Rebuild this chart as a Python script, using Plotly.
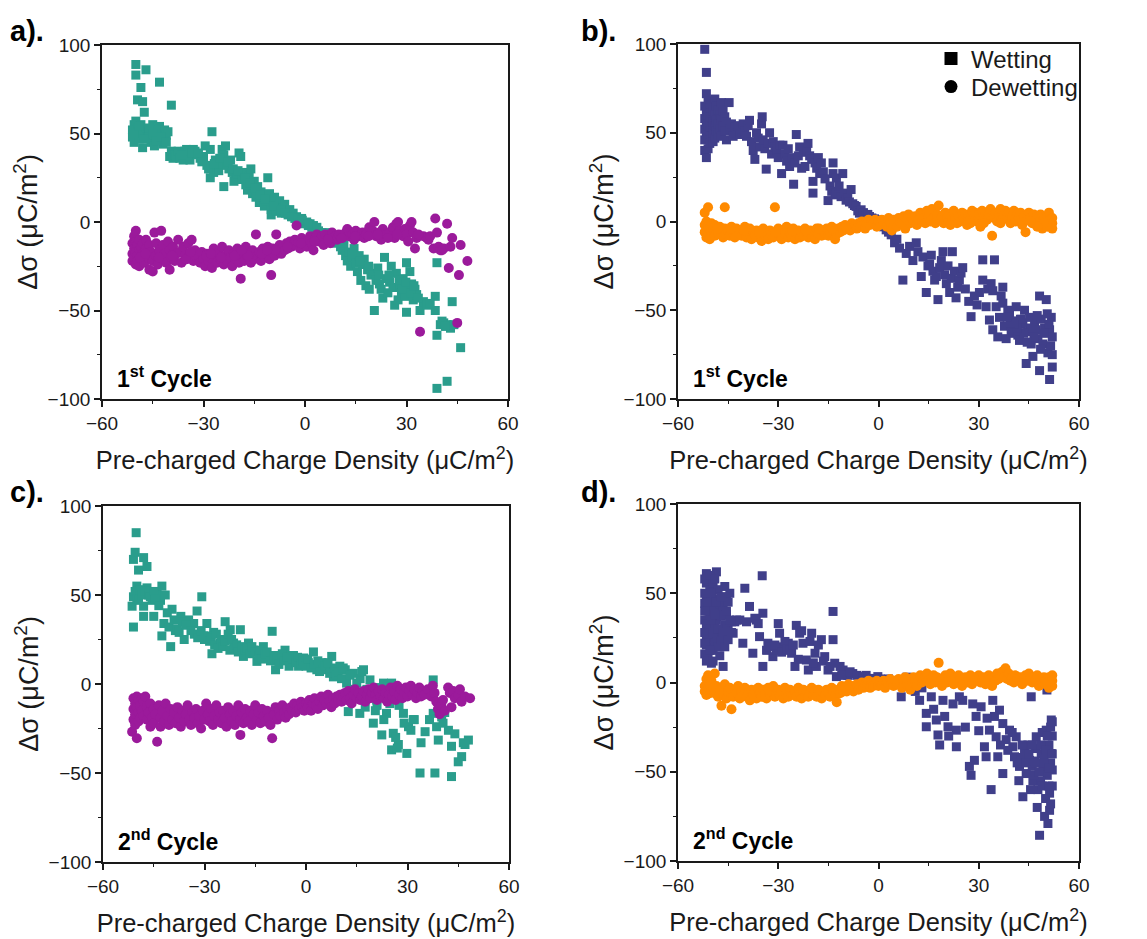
import plotly.graph_objects as go

# ---------------- data ----------------
# Panel a) 1st cycle, teal = wetting (squares), purple = dewetting (circles)
A_WET_X = [-51, -51, -50.5, -50.5, -50, -50, -50, -50, -49.5, -49.5,
           -49, -49, -48.5, -48.5, -48, -48, -48, -47.5, -47, -47,
           -46.5, -46, -45.5, -45, -44.5, -44.5, -44, -43.5, -43, -43,
           -42.5, -42, -42, -41.5, -41, -40.5, -40, -39.5, -39.5, -39,
           -38.5, -38, -37.5, -37, -36, -35.5, -35, -34.5, -34, -33,
           -32.5, -32, -31, -30.5, -30, -29.5, -29, -28.5, -28, -28,
           -27.5, -27, -26.5, -26, -25.5, -25, -24.5, -24, -24, -23.5,
           -23, -22.5, -22, -21.5, -21, -20.5, -20, -19.5, -19, -18.5,
           -18, -17.5, -17, -16.5, -16, -15.5, -15, -14.5, -14, -13.5,
           -13, -12.5, -12, -11.5, -11, -10.5, -10, -10, -9.5, -9,
           -8.5, -8, -7.5, -7, -6.5, -6, -5.5, -5, -4.5, -4,
           -3.5, -3, -2.5, -2, -1.5, -1, 0, 0.5, 1, 1.5,
           2, 2.5, 3, 4, 5, 5.5, 6, 7, 8, 9,
           10, 10.5, 11, 11.5, 12, 12.5, 13, 13.5, 14, 14.5,
           15, 15.5, 16, 16.5, 17, 17.5, 18, 18.5, 19, 19.5,
           20, 20.5, 21, 21.5, 22, 22.5, 23, 23.5, 24, 24.5,
           25, 25.5, 26, 26.5, 27, 27.5, 28, 28.5, 29, 29.5,
           30, 30, 30.5, 31, 31.5, 32, 32.5, 33, 34, 35,
           38.5, 38.5, 39, 39, 39, 40, 41, 42, 42, 43,
           43.5, 46, -50.5, -49, -47.5, -46, -45, -44, -42.5, -41,
           -36.5, -33.5, -31.5, -26.8, -25.2, -22.8, -21.2, -19.8, -17.8, -16.2,
           -14.8, -13.2, -11.8, -9.2, -7.2, -5.8, -3.8, -2.2, -0.8, 0.8,
           3.5, 6.5, 8.5, 11.2, 13.8, 16.2, 18.8, 21.8, 24.8, 27.8,
           28.8, 29.8, 31.2, 32.2, 33.5, 36, 37, 40.5, 41.5, 44]
A_WET_Y = [48, 52, 45, 55, 50, 57, 89, 83, 69, 53,
           47, 51, 76, 55, 68, 42, 50, 62, 86, 53,
           48, 51, 45, 55, 43, 49, 52, 47, 54, 79,
           50, 44, 46, 52, 49, 51, 37, 66, 40, 36,
           38, 37, 40, 36, 35, 40, 41, 39, 35, 41,
           40, 38, 36, 34, 37, 43, 32, 30, 25, 41,
           51, 28, 35, 30, 29, 33, 41, 38, 20, 43,
           32, 30, 35, 28, 23, 26, 27, 39, 37, 24,
           28, 21, 18, 26, 30, 16, 23, 14, 20, 11,
           17, 14, 9, 12, 25, 16, 7, 4, 11, 14,
           6, 9, 12, 5, 8, 10, 6, 4, 7, 3,
           5, 2, 3, 1, 0, 2, -1, 0, -2, -1,
           -3, -2, -4, -5, -6, -9, -7, -8, -9, -12,
           -11, -14, -16, -13, -19, -22, -17, -25, -20, -15,
           -23, -28, -19, -33, -24, -21, -36, -27, -38, -30,
           -29, -50, -33, -26, -35, -38, -43, -20, -32, -40,
           -34, -25, -37, -47, -29, -44, -36, -40, -32, -42,
           -23, -51, -38, -28, -35, -44, -38, -41, -50, -45,
           -50, -42, -23, -64, -94, -58, -57, -90, -58, -60,
           -45, -71, 50, 54, 47, 53, 50, 46, 48, 45,
           38, 39, 39, 33, 36, 34, 30, 29, 25, 22,
           19, 15, 13, 9, 7, 5, 3, 2, 1, -1,
           -3, -6, -10, -12, -18, -22, -25, -30, -30, -33,
           -38, -34, -40, -36, -43, -47, -46, -56, -59, -58]

A_DEW_X = [-51, -51, -51, -50.5, -50.5, -50.5, -50, -50, -50, -50,
           -49.5, -49.5, -49.5, -49, -49, -49, -48.5, -48.5, -48, -48,
           -47.5, -47, -47, -46.5, -46, -46, -45.5, -45, -45, -44.5,
           -44, -44, -43.5, -43, -42.5, -42, -42, -41.5, -41, -40.5,
           -40, -40, -39.5, -39, -38.5, -38, -37.5, -37, -36.5, -36,
           -35.5, -35, -34.5, -34, -33.5, -33, -32.5, -32, -31.5, -31,
           -30.5, -30, -29.5, -29, -28.5, -28, -27.5, -27, -26.5, -26,
           -25.5, -25, -24.5, -24, -23.5, -23, -22.5, -22, -21.5, -21,
           -20.5, -20, -19.5, -19, -19, -18.5, -18, -17.5, -17, -16.5,
           -16, -15.5, -15, -14.5, -14, -13.5, -13, -12.5, -12, -11.5,
           -11, -10.5, -10, -10, -9.5, -9, -8.5, -8, -7.5, -7,
           -6.5, -6, -5.5, -5, -4.5, -4, -3.5, -3, -2.5, -2,
           -1.5, -1, 0, 0.5, 1, 1.5, 2, 2.5, 3, 3.5,
           4, 5, 5.5, 6, 7, 7.5, 8, 9, 9.5, 10,
           11, 12, 12.5, 13, 14, 14.5, 15, 16, 17, 17.5,
           18, 19, 20, 20.5, 21, 22, 22.5, 23, 24, 25,
           26, 26.5, 27, 27.5, 28, 29, 29.5, 30, 30.5, 31,
           31.5, 32, 32.5, 33, 34, 35, 36, 38, 38.5, 39,
           39.5, 40, 40.5, 41, 42, 42.5, 43, 43.5, 45, 45.5,
           46, 48, -48.8, -47.2, -43.2, -39.2, -35.2, -29.2, -24.8, -20.8,
           -16.8, -12.8, -8.8, -5.2, -1.2, 2.8, 6.8, 10.8, 14.8, 18.8,
           21.5, 24.5, 27.2, 33.5, 36.5, 37, -33.8, -27.8, -18.8, -11.2]
A_DEW_Y = [-12, -18, -22, -8, -15, -20, -5, -11, -17, -24,
           -13, -19, -22, -10, -16, -25, -14, -21, -12, -18,
           -23, -15, -10, -20, -27, -13, -17, -28, -22, -6,
           -12, -19, -24, -16, -5, -21, -13, -18, -23, -11,
           -27, -16, -20, -14, -22, -18, -10, -17, -23, -14,
           -19, -21, -12, -18, -10, -22, -16, -20, -19, -23,
           -17, -21, -25, -18, -22, -20, -26, -15, -19, -23,
           -17, -21, -14, -24, -19, -22, -16, -20, -25, -18,
           -21, -15, -23, -32, -19, -17, -22, -14, -20, -18,
           -23, -16, -21, -7, -19, -17, -22, -15, -20, -18,
           -14, -21, -30, -17, -15, -19, -7, -16, -13, -18,
           -14, -16, -12, -15, -11, -14, -13, -10, -2, -12,
           -15, -9, -11, -14, -10, -8, -12, -16, -9, -7,
           -11, -8, -13, -7, -9, -12, -6, -8, -10, -7,
           -9, -6, -4, -8, -7, -10, -5, -8, -6, -9,
           -7, -3, -5, 0, -8, -6, -10, -4, -7, -6,
           -3, -9, -1, 0, -5, -8, -4, -7, -11, -2,
           0, -6, -15, -9, -62, -8, -9, -15, 2, -6,
           -14, -16, -16, -15, -1, -26, -14, -9, -57, -30,
           -13, -22, -20, -18, -20, -19, -21, -19, -20, -19,
           -19, -18, -16, -14, -12, -11, -10, -9, -8, -8,
           -7, -9, -7, -7, -10, -8, -17, -18, -16, -16]

# Panel b) 1st cycle, navy = wetting, orange = dewetting
B_WET_X = [-52, -51.5, -51.5, -52, -52, -52, -52, -52, -51.5, -51.5,
           -51.5, -51.5, -51, -51, -51, -51, -51, -50.5, -50.5, -50.5,
           -50.5, -50, -50, -50, -50, -49.5, -49.5, -49.5, -49.5, -49,
           -49, -49, -49, -48.5, -48.5, -48.5, -48, -48, -48, -47.5,
           -47.5, -47, -47, -47, -46.5, -46.5, -46, -46, -45.5, -45.5,
           -44.7, -44.5, -44, -43.5, -43, -42.5, -42, -41.5, -41, -40.5,
           -40, -39.5, -39, -38.6, -38, -37.5, -37, -36.5, -36, -35.5,
           -35, -34.8, -34.5, -34, -33.6, -33, -32.6, -32, -31.5, -31,
           -30.5, -30, -29.5, -29, -28.6, -28, -27.5, -27, -26.6, -26,
           -25.4, -25, -24.6, -24, -23.6, -23, -22.5, -22, -21.5, -21.1,
           -20.6, -20, -19.6, -19.6, -19, -18.5, -18, -17.6, -17.1, -16.5,
           -16, -15.1, -14.5, -14, -13.6, -13.6, -13, -12.6, -12.6, -11.8,
           -11.2, -10.7, -10.2, -9.7, -9.2, -8.7, -8.2, -7.7, -7.2, -6.7,
           -6.2, -5.7, -5.2, -4.5, -3.8, -3.2, -2.7, -2, -1.2, -0.7,
           0.3, 0.8, 1.5, 2.3, 3, 3.8, 4.8, 5.5, 6.3, 7.3,
           8.3, 9.3, 10.3, 11.3, 11.8, 12.8, 13.3, 14.3, 14.8, 15.3,
           15.8, 16.3, 16.8, 17.3, 17.8, 18.3, 18.8, 19.3, 19.8, 20.3,
           20.8, 21.3, 21.8, 22.1, 22.7, 23.2, 23.7, 24.2, 24.7, 25.2,
           26, 27, 27.7, 28.7, 29.5, 30.2, 31.2, 31.2, 32.2, 32.7,
           33.2, 33.7, 34.2, 34.2, 34.7, 35.2, 35.7, 36.2, 36.7, 37.2,
           37.2, 37.7, 38.2, 38.7, 39.2, 39.7, 40.2, 40.7, 41.2, 41.7,
           42.2, 42.7, 43.2, 43.7, 44.2, 44.7, 45.2, 45.7, 46.2, 46.7,
           47.2, 47.7, 48.2, 48.2, 48.7, 49.2, 49.7, 50.2, 50.7, 51.2,
           51.2, 51.7, 52, 51.5, 52, 51, 50.5, 49.5, 48.5, 47.5,
           46.5, 45.5, 44.5, 43.5, 42.5, 41.5, 40.5, 39.5, 38.5, 52]
B_WET_Y = [97, 84, 72, 65, 58, 52, 46, 40, 62, 55,
           49, 36, 68, 60, 54, 47, 41, 64, 57, 51,
           44, 66, 59, 53, 48, 62, 56, 50, 45, 69,
           60, 54, 47, 65, 57, 51, 63, 55, 49, 60,
           52, 67, 58, 48, 62, 54, 59, 51, 56, 46,
           67, 52, 55, 48, 53, 50, 54, 49, 52, 55,
           51, 48, 54, 57, 45, 40, 35, 50, 47, 42,
           55, 59, 46, 41, 29.5, 44, 50, 38, 45, 42,
           40, 36, 43, 27, 43, 38, 34, 41, 31, 36,
           21, 33, 49, 37, 42, 30, 39, 31, 40, 44,
           37, 35, 22.6, 16, 33, 30, 36, 27, 33, 28,
           24, 11.8, 20, 17, 33, 27, 15, 24.5, 16, 20,
           14, 27, 16, 12, 13, 11, 18, 10, 9, 8.5,
           6, 4.7, 6.6, 5, 3, 4, 2.8, 2, 1.5, 1,
           0, -1, -3, -4.7, -6, -7.5, -12, -10, -15, -33,
           -18, -14, -22, -12, -17, -31, -20, -40, -25, -24,
           -19, -28, -33, -31, -44, -26, -22, -17, -30, -35,
           -25, -40, -32, -17, -28, -43, -37, -33, -29, -26,
           -38, -45, -53.6, -42, -47, -40, -21.6, -33, -48, -38,
           -55.5, -35, -39, -61, -21.6, -48, -65, -54, -42, -37,
           -46, -59, -66, -50, -52, -63, -61, -56, -48, -64,
           -67, -58, -57, -50, -80, -62, -54, -69, -76, -58,
           -61, -66, -84, -42, -55, -69, -60, -44, -74, -89,
           -61, -54, -82, -70, -65, -58, -52, -63, -72, -53,
           -65, -60, -68, -63, -55, -60, -58, -57, -54, -75]

B_DEW_X = [-52, -52, -52, -51.5, -51.5, -51, -51, -51, -50.5, -50.5,
           -50, -50, -49.5, -49, -49, -48.5, -48, -47.5, -47, -46.5,
           -46, -46, -45.5, -45, -44.5, -44, -43.5, -43, -42.5, -42,
           -41.5, -41, -40.5, -40, -39.5, -39, -38.5, -38, -37.5, -37,
           -36.5, -36, -35.5, -35, -34.5, -34, -33.5, -33, -32.5, -32,
           -31.5, -31, -30.5, -30, -29.5, -29, -28.5, -28, -27.5, -27,
           -26.5, -26, -25.5, -25, -24.5, -24, -23.5, -23, -22.5, -22,
           -21.5, -21, -20.5, -20, -19.5, -19, -18.5, -18, -17.5, -17,
           -16.5, -16, -15.5, -15, -14.5, -14, -13.5, -13, -12.5, -12,
           -11.5, -11, -10.5, -10, -9.5, -9, -8.5, -8, -7.5, -7,
           -6.5, -6, -5.5, -5, -4.5, -4, -3.5, -3, -2.5, -2,
           -1.5, -1, -0.5, 0, 0.5, 1, 1.5, 2, 2.5, 3,
           3.5, 4, 4.5, 5, 5.5, 6, 6.5, 7, 7.5, 8,
           8.5, 9, 9.5, 10, 10.5, 11, 11.5, 12, 12.5, 13,
           13.5, 14, 14.5, 15, 15.5, 16, 16.5, 17, 17.5, 18,
           18.5, 19, 19.5, 20, 20.5, 21, 21.5, 22, 22.5, 23,
           23.5, 24, 24.5, 25, 25.5, 26, 26.5, 27, 27.5, 28,
           28.5, 29, 29.5, 30, 30.5, 31, 31.5, 32, 32.5, 33,
           33.5, 34, 34.5, 35, 35.5, 36, 36.5, 37, 37.5, 38,
           38.5, 39, 39.5, 40, 40.5, 41, 41.5, 42, 42.5, 43,
           43.5, 44, 44.5, 45, 45.5, 46, 46.5, 47, 47.5, 48,
           48.5, 49, 49.5, 50, 50.5, 51, 51, 51.5, 51.5, 52,
           52, 52, 50.5, 49.5, 47.5, 45.5, 36.5, 31.5, 27.5, 21.5,
           -48.2, -44.2, -40.2, -35.8, -30.8, -25.8, -21.8, -17.8, -13.8, -9.8]
B_DEW_Y = [5, -2, -6, 0, -9, 8, -3, -7, -4, -10,
           -1, -6, -4, -8, -2, -5, -7, -3, -6, -9,
           8, -4, -7, -5, -8, -3, -6, -9, -4, -7,
           -5, -8, -6, -3, -9, -7, -4, -10, -6, -8,
           -5, -9, -7, -11, -4, -8, -6, -10, -5, -7,
           -9, 8, -6, -4, -8, -10, -5, -7, -3, -9,
           -6, -8, -4, -10, -7, -5, -9, -6, -8, -4,
           -7, -9, -5, -8, -6, -10, -4, -7, -6, -8,
           -5, -7, -4, -8, -6, -3, -5, -10, -7, -4,
           -6, -3, -5, -2, -4, -3, -5, -1, -3, -2,
           -4, -1, -3, 0, -2, -4, -1, 1, -2, 0,
           -1, 1, -3, 0, -2, 1, -1, 0, -3, 2,
           -1, -5, 1, 0, -3, 2, -1, 0, 3, -4,
           1, 4, -1, 2, 0, 3, -2, 1, 5, 0,
           2, -1, 6, 3, 0, 7, 2, -1, 4, 9,
           1, 3, -1, 5, 2, 0, 4, 1, 6, 2,
           -1, 3, 0, 5, 2, 4, -2, 3, 1, 6,
           2, 5, 0, 4, -3, 6, 2, 5, 1, 4,
           7, -8, 2, 5, 0, 4, 7, 1, 3, 6,
           2, 5, -1, 3, 6, 0, 4, 2, 5, -2,
           3, -6, 1, 5, 2, -1, 4, 1, 3, 0,
           4, -4, 2, 0, 3, -2, 5, 1, -3, 2,
           -1, -4, -3, -1, -3, 0, -1, -1, -1, -2,
           -4, -4, -5, -6, -6, -5, -5, -4, -4, -3]

# Panel c) 2nd cycle, teal = wetting, purple = dewetting
C_WET_X = [-50.2, -51, -50.5, -49.5, -48, -47, -51.4, -51, -51, -50,
           -49, -48, -48, -47, -45.5, -45, -44, -43, -42.6, -41.6,
           -42, -42.6, -40, -39.6, -38.6, -37, -36, -34.7, -33.2, -32.2,
           -30.8, -30.3, -29.3, -27.8, -27.3, -25.4, -23.9, -22.4, -21.4, -19.4,
           -18.5, -17, -15.5, -14.5, -12.6, -11, -10, -9, -7.6, -6.2,
           -4.7, -3.7, -2.2, -0.7, 0.7, 2.2, 3.2, 4.7, 6.1, 7.6,
           8.1, 10, 11.6, 12, 12.5, 14, 15, 15.9, 17, 18,
           18.9, 19.9, 20.9, 22.4, 22.9, 23.8, 24.8, 25.3, 25.8, 25.3,
           27.3, 28.8, 29.8, 30.3, 31.7, 33.7, 35.2, 37.6, 37.6, 38.1,
           38.6, 39.1, 40.1, 42.1, 43, 43, 45, 46, 46.5, 48,
           -50.5, -50, -49.5, -49, -48.5, -47.5, -46.5, -46, -45, -44.5,
           -43.5, -41, -40.5, -39, -38, -37.5, -36.5, -35.5, -34, -33,
           -32, -31, -30, -29, -28.5, -28, -27, -26.5, -26, -25,
           -24.5, -24, -23, -22.5, -22, -21, -20.5, -20, -19, -18,
           -17.5, -16.5, -16, -15, -14, -13.5, -13, -12, -11.5, -10.5,
           -9.5, -8.5, -8, -7, -6.5, -5.5, -5, -4, -3, -2.5,
           -1.5, -1, 0, 0.5, 1.5, 2.5, 3.5, 4, 5.5, 6.5,
           7, 8.5, 9, 9.5, 10.5, 11, 13, 13.5, 16, 16.5,
           19.5, 21, 21.5, 23, 24, 26.5, 27.5, 29, 31, 32,
           34, 36.5, 40.5, 41, 44, 47, 27, 20.5, 17.5, 14.5]
C_WET_Y = [85, 70, 74, 64, 71, 66, 43.7, 32, 49, 55,
           51, 43.7, 38, 54, 47, 38, 51, 47, 55, 50,
           34, 27, 21, 42, 30, 38, 25, 36, 34, 41,
           49, 27, 34, 17, 29, 23, 35, 30.5, 23, 30.5,
           15.5, 23, 19, 12.7, 21, 16, 29.6, 8, 15.5, 19,
           12.7, 16, 10, 14.6, 12, 18, 8, 12, 8, 15.5,
           4, 10, 8, 0.5, -15.5, 6, 0.5, -16.5, 8, -3,
           2.3, -22, -9, -28.6, 0.5, -16.5, -11, 0.5, -27.7, -37,
           -34, -16.5, -39, -24, -20, -50, -26.8, 2.3, -16.5, -50,
           -24, -31.5, -18.5, -26, -35, -52, -43.7, -40.8, -33, -31.5,
           52, 48, 47, 53, 50, 52, 50, 49, 52, 48,
           44, 40, 32, 36, 31, 29, 35, 33, 30, 28,
           26, 30, 25, 27, 24, 26, 22, 28, 20, 25,
           21, 24, 28, 19, 25, 20, 22, 18, 21, 19,
           20, 17, 21, 18, 16, 19, 14, 17, 18, 13,
           16, 14, 11, 17, 13, 15, 10, 14, 12, 15,
           11, 13, 10, 14, 9, 11, 13, 7, 10, 12,
           6, 9, 5, 7, 3, 9, 5, -3, 3, 7,
           -6, -12, -2, -20, -8, -30, -12, -22, -26, -20,
           -33, -20, -22, -16, -28, -34, -36, -15, -13, -7]

C_DEW_X = [-51.4, -51, -51, -51, -50.5, -50.5, -50.5, -50, -50, -50,
           -49.5, -49.5, -49.5, -49, -49, -48.5, -48.5, -48, -48, -47.5,
           -47, -47, -46.5, -46, -46, -45.5, -45, -45, -44.5, -44,
           -43.5, -43, -43, -42.5, -42, -41.5, -41, -40.5, -40, -39.5,
           -39, -38.5, -38, -37.5, -37, -36.5, -36, -35.5, -35, -34.5,
           -34, -33.5, -33, -32.5, -32, -31.5, -31, -30.5, -30, -29.5,
           -29, -28.5, -28, -27.5, -27, -26.5, -26, -25.5, -25, -24.5,
           -24, -23.5, -23, -22.5, -22, -21.5, -21, -20.5, -20, -19.5,
           -19.4, -19, -18.5, -18, -17.5, -17, -16.5, -16, -15.5, -15,
           -14.5, -14, -13.5, -13, -12.5, -12, -11.5, -11, -10.5, -10,
           -9.5, -9, -8.5, -8, -7.5, -7, -6.5, -6, -5.5, -5,
           -4.5, -4, -3.5, -3, -2.5, -2, -1.5, -1, -0.5, 0,
           0.5, 1, 1.5, 2, 2.5, 3, 3.5, 4, 4.5, 5,
           5.5, 6, 6.5, 7, 7.5, 8, 8.5, 9, 9.5, 10,
           10.5, 11, 11.5, 12, 12.5, 13, 13.5, 14, 14.5, 15,
           15.5, 16, 16.5, 17, 17.5, 18, 18.5, 19, 19.5, 20,
           20.5, 21, 21.5, 22, 22.5, 23, 23.5, 24, 24.5, 25,
           25.5, 26, 26.5, 27, 27.5, 28, 28.5, 29, 29.5, 30,
           30.5, 31, 31.5, 32, 32.5, 33, 33.5, 34, 34.5, 35,
           36, 37, 37.5, 38, 38.5, 39, 39.5, 40, 40.5, 41,
           42, 42.5, 43, 43.5, 44, 45, 45.5, 46, 47, 48.5]
C_DEW_Y = [-26.8, -8, -14, -20, -11, -17, -23, -7, -13, -30.5,
           -9, -16, -21, -12, -19, -8, -15, -10, -18, -7,
           -13, -20, -16, -24, -11, -19, -14, -22, -17, -32.4,
           -12, -19, -24, -15, -21, -11, -18, -23, -14, -20,
           -16, -22, -13, -19, -24, -15, -21, -17, -12, -20,
           -23, -16, -19, -14, -22, -18, -25, -15, -20, -11,
           -17, -21, -14, -23, -18, -12, -20, -16, -22, -15,
           -19, -24, -13, -17, -21, -15, -23, -18, -12, -20,
           -28.6, -16, -22, -14, -19, -21, -15, -23, -17, -12,
           -20, -16, -22, -14, -18, -21, -15, -19, -23, -30.5,
           -17, -13, -20, -15, -18, -12, -16, -19, -14, -17,
           -13, -15, -11, -16, -12, -14, -10, -13, -15, -11,
           -13, -9, -15, -11, -8, -12, -14, -10, -7, -12,
           -9, -11, -6, -10, -13, -8, -11, -7, -9, -6,
           -10, -7, -5, -9, -4, -8, -11, -6, -3, -8,
           -5, -9, -7, -4, -10, -6, -3, -8, -5, -2,
           -6, -9, -4, -7, -3, -8, -5, -10, -6, -2,
           -7, -4, -9, -1, -6, -3, -8, -5, -2, -7,
           -4, -1, -6, -3, -8, -5, -2, -7, -4, -6,
           -3, -7, -1, -5, -10, -14, -17, -12, -9, -15,
           -2, -5, -13, -4, -8, -6, -3, -10, -7, -8]

# Panel d) 2nd cycle, navy = wetting, orange = dewetting
D_WET_X = [-51.5, -48.5, -51.5, -52, -52, -51.5, -52, -50, -49.5, -48.5,
           -48, -46.5, -46, -45.5, -44.5, -45, -43.5, -42.5, -40.6, -40,
           -38.6, -37.6, -36.6, -35.6, -34.8, -34.6, -34.6, -33.1, -31.6, -30.6,
           -30, -29.6, -28.6, -27, -26, -25, -24.6, -23.6, -22.6, -21.6,
           -21, -20, -19, -18.6, -17.1, -16.1, -15.1, -13.6, -13.6, -13.1,
           -12.6, -10.6, -9.2, -7.7, -5.6, -3.7, -1.7, -0.2, 2.3, 4.8,
           6.8, 7.8, 10.3, 12.3, 14.3, 14.3, 15.8, 17.3, 17.8, 18.3,
           19.3, 19.8, 20.8, 22.3, 23.3, 23.3, 24.2, 25.2, 27.2, 27.7,
           28.2, 28.7, 29.2, 30.7, 31.7, 32.2, 33.2, 33.7, 34.2, 34.7,
           35.2, 35.7, 36.2, 37.2, 37.2, 38.2, 39.2, 40.2, 40.7, 41.2,
           42.2, 43.2, 43.7, 44.2, 45.2, 45.7, 46.2, 47.2, 47.7, 48.2,
           48.7, 49.2, 49.7, 50.2, 50.4, 50.7, 51.2, 51.2, 51.7, 51.7,
           52, 52, 52, 51.5, 51, 50.5, 49.5, 48.5, 47, 46,
           -52, -52, -51.5, -51.5, -51, -51, -51, -50.5, -50.5, -50.5,
           -50, -50, -50, -49.5, -49.5, -49, -49, -49, -48.5, -48,
           -48, -47.5, -47.5, -47, -47, -46.5, -46, -45.5, -45, -44,
           -43, -41.5, -39.5, -37, -36, -33.5, -32.5, -31, -29, -28,
           -27.5, -26.5, -25.5, -24, -23, -20.5, -19.5, -18, -16.5, -14.5,
           -11.5, -11, -8.5, -6.5, -4.5, 0.5, 3, 8.5, 11, 13,
           16.5, 21, 26, 30, 32.5, 36.5, 38.7, 42.7, 44.7, 46.7,
           -52, -52, -52, -51.5, -51.5, -51, -51, -50.5, -50.5, -50,
           -50, -49.5, -49.5, -49, -49, -48.5, -48, -47.5, -47, -46.5,
           -46, -45.5, -45, -44.5, -44,
           45, 45.5, 46, 46.5, 47, 47.5, 48, 48.5, 49, 49,
           49.5, 50, 50, 50.5, 51, 51, 51.5, 51.5, 52, 52,
           44, 43, 42, 41.5, 40]
D_WET_Y = [61, 62, 55.7, 44.4, 35, 25.7, 16, 10.8, 18, 35,
           40.7, 9, 53.8, 48, 50, 31, 27.6, 35, 22, 52.8,
           42.6, 16.4, 35, 25.7, 59.8, 38.8, 9, 22, 14.5, 18,
           33, 27.6, 20, 22, 16.4, 9, 32, 27.6, 22, 12.6,
           7, 27.6, 16.4, 9, 24, 14.5, 7, 39.8, 24, 10.8,
           3.3, 7, 4, 5, 3.3, 4, 2.3, 3.3, 1.4, 0.5,
           -8, -0.5, -2.3, -10, -17.3, -24.8, -8, -21, -29.4, -35,
           -10, -19, -24.8, -12, -26.7, -36, -8, -10, -47, -52,
           -12, -43.6, -19, -13.6, -36, -41.6, -26.7, -60, -10, -19,
           -30.4, -41.6, -15.5, -23, -51, -32, -26.7, -36, -41.6, -30.4,
           -47, -64, -38, -51, -43.6, -8, -55, -30.4, -60, -85.6,
           -39.8, -49, -75, -26.7, -4.2, -79, -62, -71.6, -21, -39.8,
           -49, -30, -58, -45, -35, -52, -42, -55, -37, -47,
           58, 28, 47, 21, 40, 32, 14, 52, 37, 25,
           44, 30, 20, 56, 40, 47, 33, 24, 28, 52,
           20, 44, 30, 37, 24, 42, 32, 38, 45, 34,
           34, 35, 34, 36, 33, 18, 20, 21, 17, 23,
           19, 18, 21, 13, 29, 23, 11, 21, 12, 9,
           9, 4, 6, 4, 3, 2, 2, 3, -5, -3,
           -15, -30, -25, -27, -20, -35, -38, -42, -35, -44,
           50, 40, 22, 33, 12, 45, 27, 60, 18, 35,
           50, 28, 12, 38, 58, 45, 30, 15, 48, 28,
           20, 40, 24, 35, 28,
           -40, -60, -35, -52, -45, -70, -50, -35, -58, -28,
           -45, -65, -38, -30, -48, -58, -25, -68, -40, -22,
           -45, -35, -55, -45, -28]

D_DEW_X = [-52, -52, -51.5, -51.5, -51, -51, -50.5, -50.5, -50, -50,
           -49.5, -49, -49, -48.5, -48, -47.5, -47, -46.5, -46, -45.5,
           -45, -44.5, -44, -43.5, -43, -42.5, -42, -41.5, -41, -40.5,
           -40, -39.5, -39, -38.5, -38, -37.5, -37, -36.5, -36, -35.5,
           -35, -34.5, -34, -33.5, -33, -32.5, -32, -31.5, -31, -30.5,
           -30, -29.5, -29, -28.5, -28, -27.5, -27, -26.5, -26, -25.5,
           -25, -24.5, -24, -23.5, -23, -22.5, -22, -21.5, -21, -20.5,
           -20, -19.5, -19, -18.5, -18, -17.5, -17, -16.5, -16, -15.5,
           -15, -14.5, -14, -13.5, -13, -12.5, -12, -11.5, -11, -10.5,
           -10, -9.5, -9, -8.5, -8, -7.5, -7, -6.5, -6, -5.5,
           -5, -4.5, -4, -3.5, -3, -2.5, -2, -1.5, -1, -0.5,
           0, 0.5, 1, 1.5, 2, 2.5, 3, 3.5, 4, 4.5,
           5, 5.5, 6, 6.5, 7, 7.5, 8, 8.5, 9, 9.5,
           10, 10.5, 11, 11.5, 12, 12.5, 13, 13.5, 14, 14.5,
           15, 15.5, 16, 16.5, 17, 17.5, 18, 18.5, 19, 19.5,
           20, 20.5, 21, 21.5, 22, 22.5, 23, 23.5, 24, 24.5,
           25, 25.5, 26, 26.5, 27, 27.5, 28, 28.5, 29, 29.5,
           30, 30.5, 31, 31.5, 32, 32.5, 33, 33.5, 34, 34.5,
           35, 35.5, 36, 36.5, 37, 37.5, 38, 38.5, 39, 39.5,
           40, 40.5, 41, 41.5, 42, 42.5, 43, 43.5, 44, 44.5,
           45, 45.5, 46, 46.5, 47, 47.5, 48, 48.5, 49, 49.5,
           50, 50.5, 51, 51, 51.5, 51.5, 52, 52, 52, 50]
D_DEW_Y = [-2, -5, 2, -7, -3, 4, -1, -6, -4, 1,
           -3, 5, -6, -2, -8, -4, -13, -7, -1, -9,
           -5, -3, -15, -8, -4, -6, -2, -9, -5, -7,
           -3, -8, -6, -10, -4, -7, -5, -9, -3, -6,
           -8, -4, -6, -9, -3, -7, -5, -2, -8, -6,
           -4, -7, -5, -9, -3, -6, -8, -4, -6, -7,
           -5, -8, -3, -6, -9, -4, -7, -5, -8, -6,
           -3, -7, -5, -8, -4, -6, -9, -5, -7, -4,
           -6, -8, -3, -5, -7, -11, -4, -6, -2, -5,
           -3, -5, -1, -4, -2, -5, -3, -1, -4, -2,
           0, -3, -1, -2, 1, -3, 0, -2, -1, 1,
           -2, 0, -1, 1, -3, 0, -1, 2, 0, -2,
           1, -1, 2, 0, -3, 1, 3, -1, 2, -4,
           0, 3, 1, -2, 2, 4, 0, 1, 3, 5,
           1, -1, 2, 4, 0, 3, 11, 1, -2, 2,
           4, 0, 2, 5, 1, -1, 3, 0, 4, 2,
           -2, 1, 3, 0, 2, 4, -1, 3, 1, 2,
           4, 0, 2, 3, -1, 1, 4, 2, -2, 3,
           1, 5, 2, 4, 6, 3, 8, 2, 5, 1,
           3, 0, 4, 2, 1, 3, -1, 2, 4, 1,
           5, 2, 0, 3, 1, 4, -2, 2, 0, 3,
           1, -1, 3, -3, 0, 2, 4, -2, 1, -1]

X_TICKS = [-60, -30, 0, 30, 60]
Y_TICKS = [-100, -50, 0, 50, 100]
PANEL_LABELS = ["a).", "b).", "c).", "d)."]
CYCLE_LABELS = ["1<sup>st</sup> Cycle", "1<sup>st</sup> Cycle",
                "2<sup>nd</sup> Cycle", "2<sup>nd</sup> Cycle"]
LEGEND_NAMES = ["Wetting", "Dewetting"]

# ---------------- styling ----------------
TEAL = "#2A9D8C"
PURPLE = "#9B1A9B"
NAVY = "#403F8A"
ORANGE = "#FF8A00"
FONT = "Liberation Sans, Arial, sans-serif"
OFF = 8                      # the page body adds an 8 px margin around the plot
W, H = 1147 - OFF, 939 - OFF


def px_x(p):
    return (p - OFF) / W


def px_y(p):
    return 1 - (p - OFF) / H


# panel boxes in page pixels (left, right, top, bottom)
BOXES = [(102, 508, 45, 399), (678, 1079, 44, 399),
         (103, 509, 506, 862), (678, 1079, 504, 861)]

fig = go.Figure()

series = [
    (A_WET_X, A_WET_Y, "square", TEAL, 1),
    (A_DEW_X, A_DEW_Y, "circle", PURPLE, 1),
    (B_WET_X, B_WET_Y, "square", NAVY, 2),
    (B_DEW_X, B_DEW_Y, "circle", ORANGE, 2),
    (C_WET_X, C_WET_Y, "square", TEAL, 3),
    (C_DEW_X, C_DEW_Y, "circle", PURPLE, 3),
    (D_WET_X, D_WET_Y, "square", NAVY, 4),
    (D_DEW_X, D_DEW_Y, "circle", ORANGE, 4),
]
for xs, ys, sym, col, k in series:
    suffix = "" if k == 1 else str(k)
    fig.add_trace(go.Scatter(
        x=xs, y=ys, mode="markers", showlegend=False,
        xaxis="x" + suffix, yaxis="y" + suffix,
        marker=dict(symbol=sym, color=col, size=9 if sym == "square" else 10,
                    line=dict(width=0)),
    ))

# legend-only traces (black symbols), one legend box per entry
for name, sym, lg in zip(LEGEND_NAMES, ["square", "circle"], ["legend", "legend2"]):
    fig.add_trace(go.Scatter(
        x=[None], y=[None], mode="markers", name=name, legend=lg,
        xaxis="x2", yaxis="y2",
        marker=dict(symbol=sym, color="black", size=13, line=dict(width=0)),
    ))

axis_common = dict(
    showline=True, linecolor="#1a1a1a", linewidth=1.6, mirror=True,
    ticks="outside", ticklen=6, tickwidth=1.6, tickcolor="#1a1a1a",
    showgrid=False, zeroline=False, automargin=False,
    tickfont=dict(family=FONT, size=19, color="#1a1a1a"),
    minor=dict(ticks="outside", ticklen=3.5, tickwidth=1.3, tickcolor="#1a1a1a",
               showgrid=False),
)

legend_common = dict(xanchor="left", yanchor="middle",
                     font=dict(family=FONT, size=24, color="#1a1a1a"),
                     bgcolor="rgba(0,0,0,0)", itemwidth=30, tracegroupgap=0)

layout = dict(
    width=W, height=H, margin=dict(l=0, r=0, t=0, b=0),
    paper_bgcolor="white", plot_bgcolor="white",
    font=dict(family=FONT, color="#1a1a1a"),
    showlegend=True,
    legend=dict(legend_common, x=px_x(931), y=px_y(59)),
    legend2=dict(legend_common, x=px_x(931), y=px_y(87)),
)

annotations = []
for i, (l, r, t, b) in enumerate(BOXES):
    suffix = "" if i == 0 else str(i + 1)
    xa = dict(axis_common)
    xa.update(domain=[px_x(l), px_x(r)], range=[-60, 60], tickvals=X_TICKS,
              anchor="y" + suffix,
              title=dict(text="Pre-charged Charge Density (μC/m<sup>2</sup>)",
                         font=dict(family=FONT, size=25.5, color="#1a1a1a"),
                         standoff=19))
    xa["minor"] = dict(axis_common["minor"], dtick=15, tick0=-60)
    ya = dict(axis_common)
    ya.update(domain=[px_y(b), px_y(t)], range=[-100, 100], tickvals=Y_TICKS,
              anchor="x" + suffix,
              title=dict(text="Δσ (μC/m<sup>2</sup>)",
                         font=dict(family=FONT, size=27, color="#1a1a1a"),
                         standoff=2))
    ya["minor"] = dict(axis_common["minor"], dtick=25, tick0=-100)
    layout["xaxis" + suffix] = xa
    layout["yaxis" + suffix] = ya

    # panel letter
    annotations.append(dict(
        text="<b>%s</b>" % PANEL_LABELS[i], xref="paper", yref="paper",
        x=px_x(8 if i % 2 == 0 else 579),
        y=px_y(31 if i < 2 else 492),
        xanchor="left", yanchor="middle", showarrow=False,
        font=dict(family=FONT, size=29, color="black")))
    # cycle label inside panel
    annotations.append(dict(
        text="<b>%s</b>" % CYCLE_LABELS[i], xref="paper", yref="paper",
        x=px_x(l + 13), y=px_y(b - 22),
        xanchor="left", yanchor="middle", showarrow=False,
        font=dict(family=FONT, size=23, color="black")))

layout["annotations"] = annotations
fig.update_layout(**layout)
fig.write_html("out.html")
